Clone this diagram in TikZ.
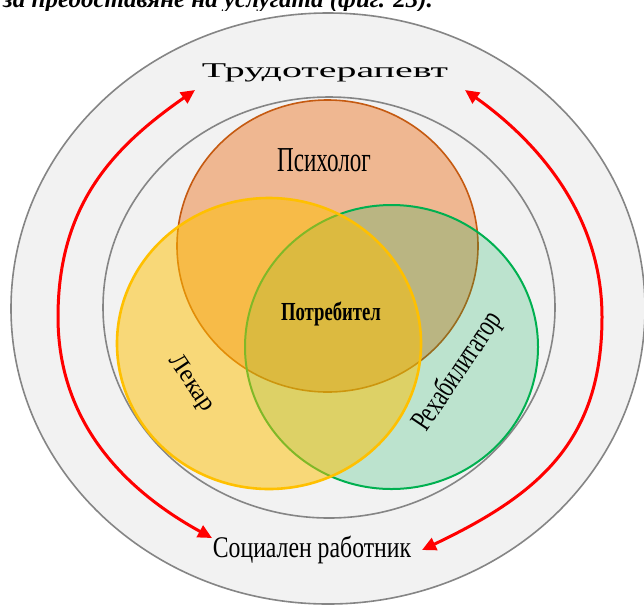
\documentclass[tikz,border=0pt]{standalone}
\usepackage{fontspec}
\setmainfont{Liberation Serif}
\usetikzlibrary{arrows.meta}
\definecolor{ringfill}{HTML}{F2F2F2}
\definecolor{ringline}{HTML}{858585}
\definecolor{psyfill}{HTML}{ED7D31}
\definecolor{psyline}{HTML}{C55A11}
\definecolor{lekfill}{HTML}{FFC000}
\definecolor{lekline}{HTML}{FFC000}
\definecolor{rehfill}{HTML}{00B050}
\definecolor{rehline}{HTML}{00B050}
\definecolor{arrowred}{HTML}{FF0000}
\tikzset{
  ring/.style={fill=ringfill, draw=ringline, line width=1.6pt},
  redarrow/.style={draw=arrowred, line width=3pt,
    {Triangle[length=14pt,width=13pt]}-{Triangle[length=14pt,width=13pt]}},
  lbl/.style={inner sep=0pt, text=black},
}
\begin{document}
\begin{tikzpicture}[x=1pt,y=-1pt]
\useasboundingbox (0,0) rectangle (644,606);
\fill[white] (0,0) rectangle (644,606);
% clipped caption line at the top
\begin{scope}
  \clip (0,0) rectangle (644,10);
  \node[lbl, anchor=base west, font=\bfseries\itshape\fontsize{25}{25}\selectfont] (caption) at (3,7)
    {за предоставяне на услугата (фиг. 23).};
\end{scope}
% rings
\path[ring] (328,308.5) ellipse [x radius=317, y radius=295.5];
\path[ring] (329,307.5) ellipse [x radius=226, y radius=210.5];
% venn circles
\path[fill=psyfill, fill opacity=0.5, draw=psyline, line width=1.6pt] (327.5,246) ellipse [x radius=150.5, y radius=146];
\path[fill=rehfill, fill opacity=0.22, draw=rehline, line width=2pt] (391.5,347) ellipse [x radius=146.5, y radius=142];
\path[fill=lekfill, fill opacity=0.5, draw=lekline, line width=2.6pt] (269,343.5) ellipse [x radius=152, y radius=145.5];
% labels
\node[lbl, font=\fontsize{21}{21}\selectfont] (trud) at (325,73) {\scalebox{1.9}[1]{Трудотерапевт}};
\node[lbl, anchor=base, font=\fontsize{25}{25}\selectfont] (soc) at (312,557) {\scalebox{0.95}[1.2]{Социален работник}};
\node[lbl, font=\fontsize{35}{35}\selectfont] (psy) at (324,160) {\scalebox{0.66}[1]{Психолог}};
\node[lbl, font=\bfseries\fontsize{26}{26}\selectfont] (potr) at (331,314) {\scalebox{0.72}[1]{Потребител}};
\node[lbl, font=\fontsize{25}{25}\selectfont, rotate=-56] (lek) at (191,384) {Лекар};
\node[lbl, font=\fontsize{31}{31}\selectfont, rotate=56] (reh) at (458,372) {\scalebox{0.7}[1]{Рехабилитатор}};
% arrow end points
\coordinate (lt) at (195,90);
\coordinate (lm) at (58,317);
\coordinate (lb) at (212,538);
\coordinate (rt) at (465,90);
\coordinate (rm) at (602,317);
\coordinate (rb) at (422,550);
\draw[redarrow] (lt) .. controls (115,146) and (58,203) .. (lm)
                     .. controls (58,428) and (132,494) .. (lb);
\draw[redarrow] (rt) .. controls (534,139) and (602,212) .. (rm)
                     .. controls (602,440) and (540,494) .. (rb);
\end{tikzpicture}
\end{document}
